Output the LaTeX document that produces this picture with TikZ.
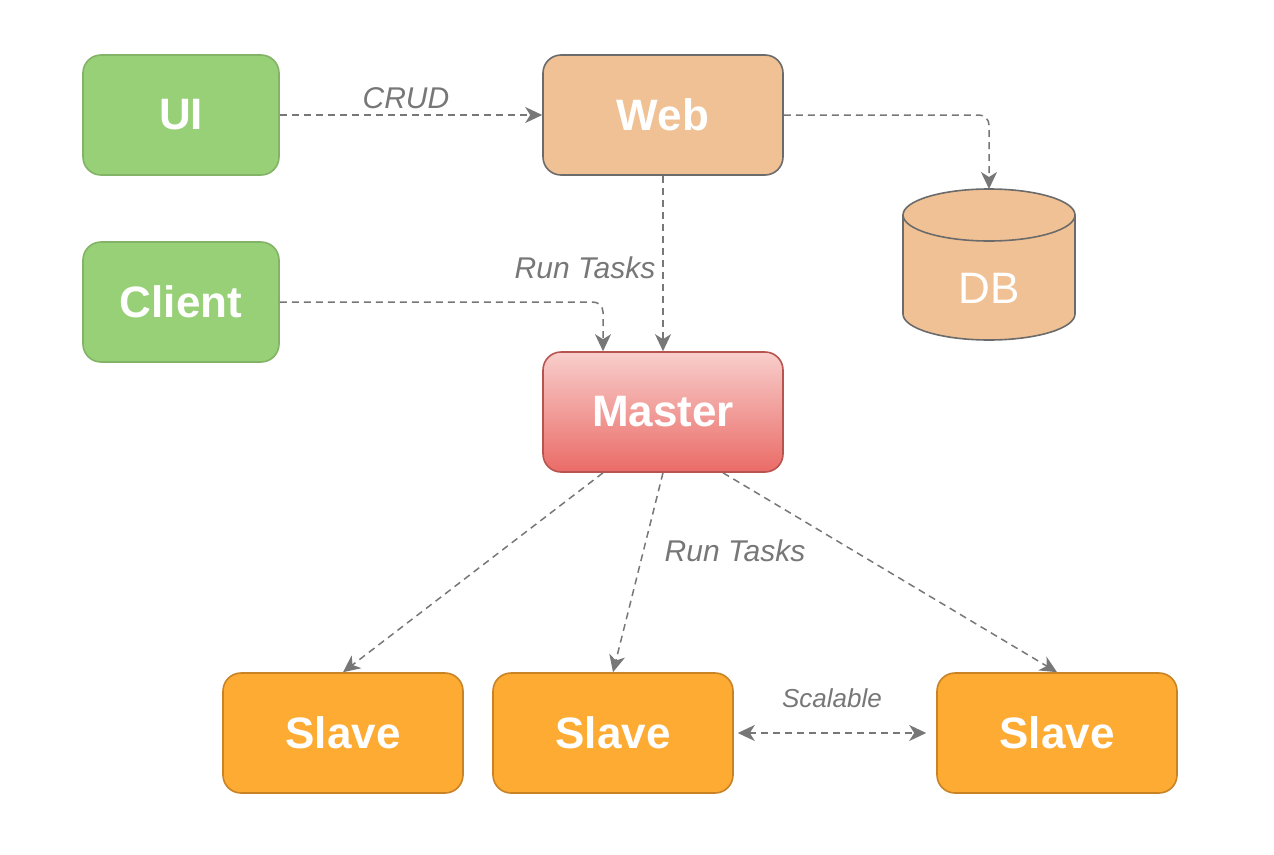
\documentclass[tikz,border=0pt]{standalone}
\usepackage{fontspec}
\setmainfont{Liberation Sans}
\usetikzlibrary{arrows.meta,calc}
\definecolor{greenfill}{HTML}{97D077}
\definecolor{greenline}{HTML}{82B366}
\definecolor{webfill}{HTML}{F0C194}
\definecolor{webline}{HTML}{6B6B6B}
\definecolor{mtop}{HTML}{F8CECC}
\definecolor{mbot}{HTML}{EA6B66}
\definecolor{mline}{HTML}{B85450}
\definecolor{slfill}{HTML}{FDAB33}
\definecolor{slline}{HTML}{C98325}
\definecolor{conn}{HTML}{777777}
\tikzset{
  box/.style={rectangle, rounded corners=18pt, line width=1.6pt, minimum width=240pt, minimum height=120pt, inner sep=0pt,
    text=white, font=\fontsize{44}{50}\selectfont\bfseries},
  greenbox/.style={box, fill=greenfill, draw=greenline, minimum width=196pt},
  webbox/.style={box, fill=webfill, draw=webline},
  masterbox/.style={box, top color=mtop, bottom color=mbot, draw=mline},
  slavebox/.style={box, fill=slfill, draw=slline},
  tip/.style={Stealth[length=17pt,width=16pt,inset=5pt,fill=conn,line width=0.5pt]},
  link/.style={draw=conn, line width=1.5pt, dash pattern=on 7pt off 5pt, rounded corners=10pt, -{Stealth[length=17pt,width=16pt,inset=5pt,fill=conn]}},
  dlink/.style={draw=conn, line width=1.5pt, dash pattern=on 7pt off 5pt, {Stealth[length=17pt,width=16pt,inset=5pt,fill=conn]}-{Stealth[length=17pt,width=16pt,inset=5pt,fill=conn]}},
  lab/.style={text=conn, font=\fontsize{30}{34}\selectfont\itshape},
}
\begin{document}
\begin{tikzpicture}[x=1pt,y=-1pt]
\useasboundingbox (0,0) rectangle (1274,854);
\node[greenbox] (ui) at (181,115) {UI};
\node[greenbox] (client) at (181,302) {Client};
\node[webbox] (web) at (663,115) {Web};
\node[masterbox] (master) at (663,412) {Master};
\node[slavebox] (s1) at (343,733) {Slave};
\node[slavebox] (s2) at (613,733) {Slave};
\node[slavebox] (s3) at (1057,733) {Slave};
% DB cylinder
\node[minimum width=172pt, minimum height=152pt, inner sep=0pt] (db) at (989,264) {};
\fill[webfill, draw=webline, line width=1.6pt]
  (903,215) -- (903,314) arc[start angle=180, end angle=360, x radius=86pt, y radius=26pt]
  -- (1075,215) arc[start angle=0, end angle=180, x radius=86pt, y radius=26pt] -- cycle;
\draw[webline, line width=1.6pt] (903,215) arc[start angle=180, end angle=360, x radius=86pt, y radius=26pt];
\node[text=white, font=\fontsize{44}{50}\selectfont] (dbl) at (989,288) {DB};
% connectors
\coordinate (dbtop) at (989,189);
\draw[link] (ui.east) -- (web.west) node[lab, midway, above=2pt, xshift=-5pt] {CRUD};
\draw[link] (web.east) -| (dbtop);
\draw[link] (web.south) -- (master.north);
\node[lab] (rt1) at (585,268) {Run Tasks};
\draw[link] (client.east) -| ($(master.north)+(-60,0)$);
\draw[link] ($(master.south)+(-60,0)$) -- (s1.north);
\draw[link] (master.south) -- (s2.north);
\node[lab] (rt2) at (735,551) {Run Tasks};
\draw[link] ($(master.south)+(60,0)$) -- (s3.north);
\draw[dlink] ($(s2.east)+(4,0)$) -- ($(s3.west)+(-10,0)$);
\node[lab, font=\fontsize{26}{30}\selectfont\itshape] (sc) at (832,698) {Scalable};
\end{tikzpicture}
\end{document}
